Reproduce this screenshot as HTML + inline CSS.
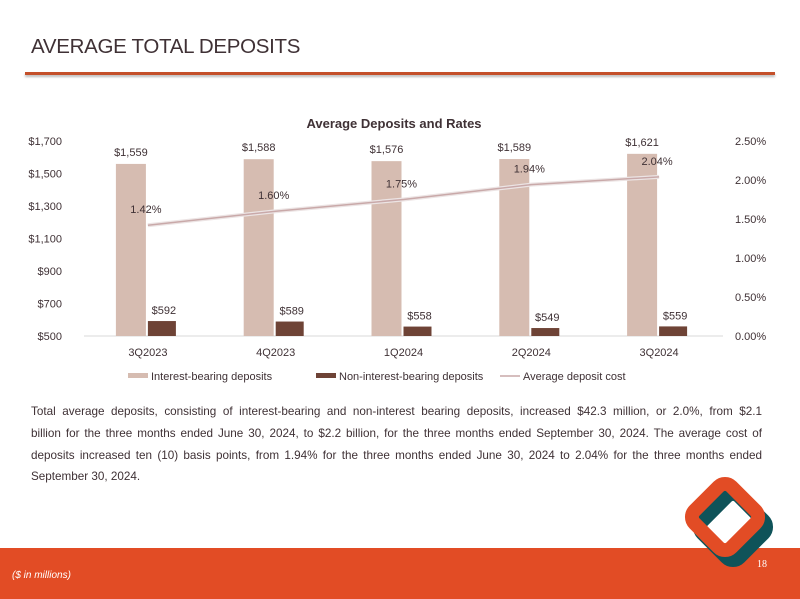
<!DOCTYPE html>
<html><head><meta charset="utf-8"><style>
body{margin:0;width:800px;height:599px;overflow:hidden;background:#fff;font-family:"Liberation Sans",sans-serif;position:relative}
.t{position:absolute;left:31px;top:35px;font-size:20.5px;color:#3f3135;letter-spacing:-0.3px}
.rule{position:absolute;left:25px;top:72px;width:750px;height:3px;background:#c4502a;box-shadow:0 2px 2px #bbb}
.para{position:absolute;left:31px;top:401px;width:731px;font-size:11.7px;line-height:21.8px;color:#3f3135;text-align:justify}
.l1{display:block;text-align:justify;text-align-last:justify}
.foot{position:absolute;left:0;top:548px;width:800px;height:51px;background:#e24c25}
.fn{position:absolute;left:12px;top:570px;font-size:10px;font-style:italic;color:#fff}
.pg{position:absolute;left:757px;top:559px;font-size:10px;color:#fff;font-family:"Liberation Serif",serif}
</style></head><body>
<div class="t">AVERAGE TOTAL DEPOSITS</div>
<div class="rule"></div>
<svg id="chart" width="800" height="400" style="position:absolute;left:0;top:0" font-family="Liberation Sans, sans-serif"></svg>
<div class="para"><span class="l1">Total average deposits, consisting of interest-bearing and non-interest bearing deposits, increased $42.3 million, or 2.0%, from $2.1</span>billion for the three months ended June 30, 2024, to $2.2 billion, for the three months ended September 30, 2024. The average cost of deposits increased ten (10) basis points, from 1.94% for the three months ended June 30, 2024 to 2.04% for the three months ended September 30, 2024.</div>
<div class="foot"></div>
<svg width="140" height="130" style="position:absolute;left:660px;top:460px">
<rect x="47" y="41" width="52" height="52" rx="9" transform="rotate(45 73 67)" fill="none" stroke="#0f5359" stroke-width="14"/>
<rect x="39" y="31" width="52" height="52" rx="9" transform="rotate(45 65 57)" fill="none" stroke="#e24c25" stroke-width="14"/>
</svg>
<div class="fn">($ in millions)</div>
<div class="pg">18</div>
<script>
const categories=["3Q2023","4Q2023","1Q2024","2Q2024","3Q2024"];
const interestBearing=[1559,1588,1576,1589,1621];
const nonInterest=[592,589,558,549,559];
const depositCost=[1.42,1.60,1.75,1.94,2.04];
const leftTicks=[500,700,900,1100,1300,1500,1700];
const rightTicks=[0,0.5,1,1.5,2,2.5];
const NS="http://www.w3.org/2000/svg",svg=document.getElementById('chart');
const x0=84,x1=723,yb=336,yt=141;
const step=(x1-x0)/categories.length;
const cx=i=>x0+step*(i+0.5);
const yL=v=>yb-(v-500)/1200*(yb-yt);
const yR=v=>yb-v/2.5*(yb-yt);
function el(t,a,txt){const e=document.createElementNS(NS,t);for(const k in a)e.setAttribute(k,a[k]);if(txt!=null)e.textContent=txt;svg.appendChild(e);return e;}
const tt=el('text',{x:394,y:128,'text-anchor':'middle','font-size':13,'font-weight':'bold',fill:'#3f3135'},'Average Deposits and Rates');


leftTicks.forEach(v=>{const t=el('text',{x:62,y:yL(v)+4,'text-anchor':'end','font-size':11,fill:'#3f3135'},'$'+v.toLocaleString('en-US'));

});
rightTicks.forEach(v=>{const t=el('text',{x:735,y:yR(v)+4,'font-size':11,fill:'#3f3135'},v.toFixed(2)+'%');

});
const ax=el('line',{x1:x0,x2:x1,y1:yb,y2:yb,stroke:'#d9d9d9'});


categories.forEach((c,i)=>{
 const b=el('rect',{x:cx(i)-32,y:yL(interestBearing[i]),width:30,height:yb-yL(interestBearing[i]),fill:'#d6bcb1'});
 
 
 const n=el('rect',{x:cx(i),y:yL(nonInterest[i]),width:28,height:yb-yL(nonInterest[i]),fill:'#6e4336'});
 
 
 const l1=el('text',{x:cx(i)-17,y:yL(interestBearing[i])-8,'text-anchor':'middle','font-size':11,fill:'#3f3135'},'$'+interestBearing[i].toLocaleString('en-US'));
 
 
 const l2=el('text',{x:cx(i)+16,y:yL(nonInterest[i])-7,'text-anchor':'middle','font-size':11,fill:'#3f3135'},'$'+nonInterest[i]);
 
 
 const cl=el('text',{x:cx(i),y:356,'text-anchor':'middle','font-size':11,fill:'#3f3135'},c);
 
 
 const rl=el('text',{x:cx(i)-2,y:yR(depositCost[i])-12,'text-anchor':'middle','font-size':11,fill:'#3f3135'},depositCost[i].toFixed(2)+'%');
 
 
});
const pts=depositCost.map((v,i)=>cx(i)+','+yR(v)).join(' ');
const halo=el('polyline',{points:pts,fill:'none',stroke:'#ece4e4','stroke-width':4});


const line=el('polyline',{points:pts,fill:'none',stroke:'#c9a9a9','stroke-width':1.5});


[[128,'rect','#d6bcb1','Interest-bearing deposits'],[316,'rect','#6e4336','Non-interest-bearing deposits'],[500,'line','#c9a9a9','Average deposit cost']].forEach(([x,k,c,txt])=>{
 const m=k==='rect'?el('rect',{x:x,y:373,width:20,height:5,fill:c}):el('line',{x1:x,x2:x+20,y1:376,y2:376,stroke:c,'stroke-width':1.5});
 
 
 const t=el('text',{x:x+23,y:380,'font-size':11,fill:'#3f3135'},txt);
 
 
});
</script>
</body></html>
